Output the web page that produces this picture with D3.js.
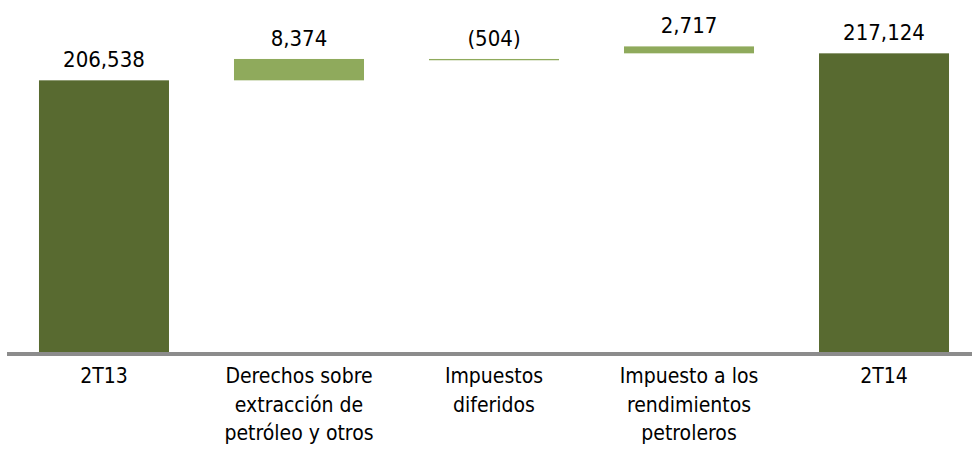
<!DOCTYPE html>
<html>
<head>
<meta charset="utf-8">
<script src="https://cdn.jsdelivr.net/npm/d3@7"></script>
<style>
  body { margin: 0; background: #fff; }
  svg { display: block; font-family: "DejaVu Sans Condensed", "DejaVu Sans", sans-serif; font-stretch: condensed; }
</style>
</head>
<body>
<svg id="chart" width="972" height="452"></svg>
<script>
const categories = [
  ["2T13"],
  ["Derechos sobre", "extracción de", "petróleo y otros"],
  ["Impuestos", "diferidos"],
  ["Impuesto a los", "rendimientos", "petroleros"],
  ["2T14"]
];
const values = [206538, 8374, -504, 2717, 217124];
const valueLabels = ["206,538", "8,374", "(504)", "2,717", "217,124"];
const barTypes = ["total", "change", "change", "change", "total"];
// bottom of each floating bar
const floors = [100000, 206538, 214408, 217124, 100000];

const width = 972;
const baseline = 352;
const darkGreen = "#586a30";
const lightGreen = "#8faa5c";
const textColor = "#000";

const svg = d3.select("#chart");

const xScale = d3.scaleBand()
  .domain(d3.range(values.length))
  .range([7, 981])
  .paddingInner(1 / 3)
  .paddingOuter(0.164);

const yScale = d3.scaleLinear()
  .domain([100000, 220000])
  .range([baseline, 46]);

const bars = values.map((v, i) => {
  const low = barTypes[i] === "total" ? yScale.domain()[0] : floors[i];
  const high = barTypes[i] === "total" ? v : floors[i] + Math.abs(v);
  return { i, low, high };
});

svg.append("g")
  .selectAll("rect")
  .data(bars)
  .join("rect")
  .attr("x", (d) => xScale(d.i))
  .attr("width", xScale.bandwidth())
  .attr("y", (d) => yScale(d.high))
  .attr("height", (d) => yScale(d.low) - yScale(d.high))
  .attr("fill", (d) => (barTypes[d.i] === "total" ? darkGreen : lightGreen));

// value labels
svg.append("g")
  .selectAll("text")
  .data(bars)
  .join("text")
  .attr("x", (d) => xScale(d.i) + xScale.bandwidth() / 2)
  .attr("y", (d) => yScale(d.high) - 13)
  .attr("text-anchor", "middle")
  .style("font-size", "22px")
  .style("fill", textColor)
  .text((d) => valueLabels[d.i]);

// axis line
svg.append("line")
  .attr("x1", 7)
  .attr("x2", width)
  .attr("y1", baseline + 2)
  .attr("y2", baseline + 2)
  .attr("stroke", "#8c8c8c")
  .attr("stroke-width", 4);

// category labels
const catLabels = svg.append("g")
  .selectAll("text")
  .data(categories)
  .join("text")
  .attr("text-anchor", "middle")
  .style("font-size", "21px")
  .style("fill", textColor);

catLabels.each(function (lines, i) {
  d3.select(this)
    .selectAll("tspan")
    .data(lines)
    .join("tspan")
    .attr("x", xScale(i) + xScale.bandwidth() / 2)
    .attr("y", (d, j) => 383 + j * 28.5)
    .text((d) => d);
});
</script>
</body>
</html>
